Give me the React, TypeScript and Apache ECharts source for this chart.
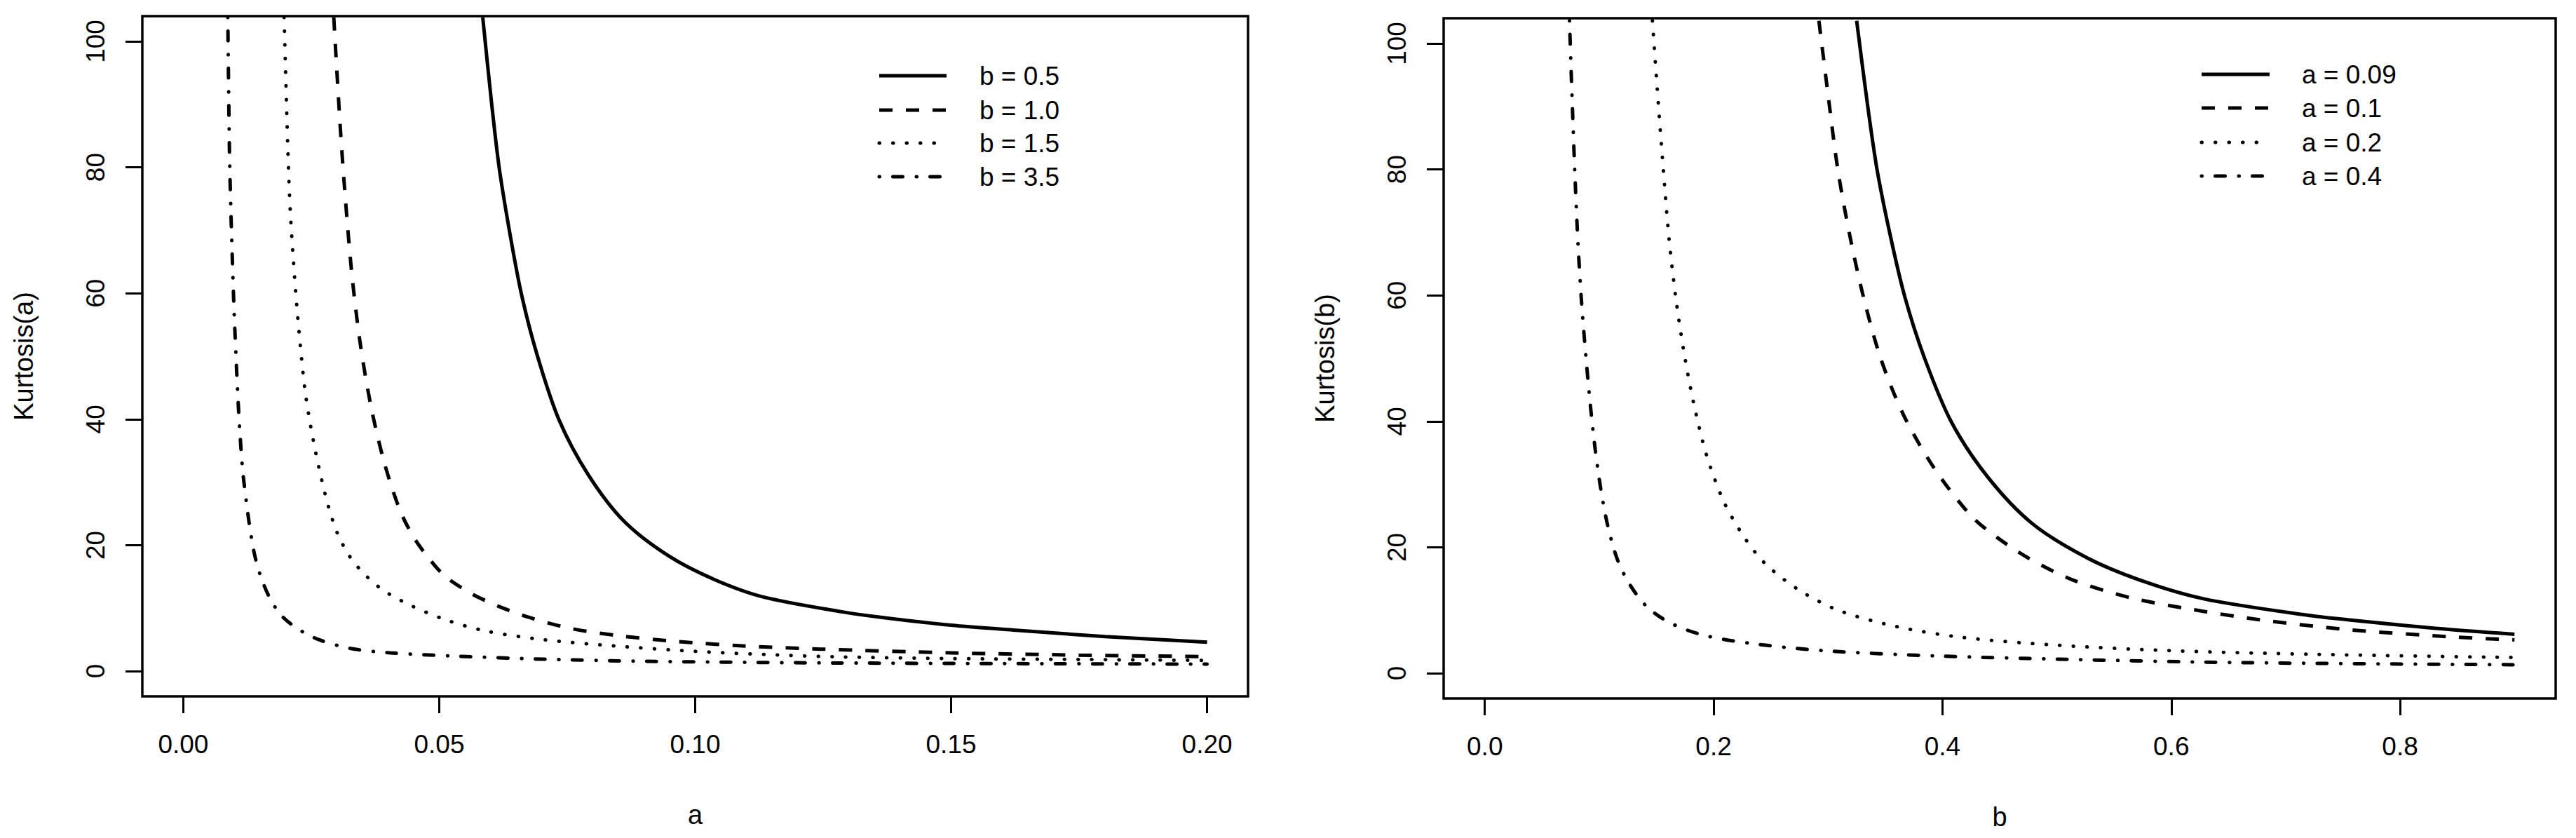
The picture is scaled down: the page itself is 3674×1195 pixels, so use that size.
import React, { useEffect, useRef } from "react";
import * as echarts from "echarts";

// Kurtosis against a, for four values of b
const leftNames = ["b = 0.5", "b = 1.0", "b = 1.5", "b = 3.5"];
const leftB05 = [
  [0.0585, 103.8], [0.0602, 90.4], [0.0617, 80], [0.0638, 69.5], [0.0661, 59.7], [0.0692, 50],
  [0.0734, 39.9], [0.0791, 31.2], [0.0861, 23.8], [0.0948, 18.3], [0.1036, 14.6], [0.1132, 11.8],
  [0.1288, 9.4], [0.1357, 8.6], [0.15, 7.3], [0.1627, 6.5], [0.18, 5.5], [0.2, 4.6],
];
const leftB10 = [
  [0.0294, 103.8], [0.0309, 83.5], [0.0327, 65], [0.0344, 53], [0.0366, 42.3], [0.0392, 33.3],
  [0.0423, 25.6], [0.0449, 21.4], [0.0476, 18.3], [0.0511, 15.1], [0.0563, 12.3], [0.0616, 10.3],
  [0.0677, 8.5], [0.0756, 6.8], [0.0843, 5.7], [0.0966, 4.7], [0.1097, 4.0], [0.1246, 3.5],
  [0.15, 2.9], [0.175, 2.55], [0.2, 2.3],
];
const leftB15 = [
  [0.0197, 103.8], [0.0204, 83.5], [0.0209, 73], [0.0215, 65.3], [0.0222, 57.7], [0.0229, 51.4],
  [0.0237, 45.1], [0.0246, 40.2], [0.0257, 35.4], [0.027, 30.5], [0.0283, 26.3], [0.03, 22.1],
  [0.0322, 18.6], [0.0349, 15.8], [0.0388, 13.0], [0.044, 10.6], [0.0511, 8.2], [0.0589, 6.4],
  [0.0703, 5.0], [0.0843, 4.0], [0.101, 3.1], [0.1185, 2.5], [0.1288, 2.25], [0.15, 2.0],
  [0.175, 1.85], [0.2, 1.7],
];
const leftB35 = [
  [0.0087, 103.8], [0.009, 83.5], [0.0093, 73], [0.0099, 57.7], [0.0103, 50], [0.0107, 43],
  [0.0111, 37.4], [0.0116, 31.9], [0.0123, 27], [0.013, 22.8], [0.0139, 18.6], [0.0151, 15.1],
  [0.0169, 11.6], [0.0191, 8.9], [0.0222, 6.8], [0.0265, 5.0], [0.0327, 3.6], [0.0405, 2.9],
  [0.0528, 2.4], [0.0703, 1.9], [0.0878, 1.6], [0.1097, 1.4], [0.1272, 1.3], [0.16, 1.2], [0.2, 1.12],
];

// Kurtosis against b, for four values of a
const rightNames = ["a = 0.09", "a = 0.1", "a = 0.2", "a = 0.4"];
const rightA009 = [
  [0.325, 103.6], [0.3344, 90.4], [0.3428, 80], [0.3544, 69.5], [0.3672, 59.7], [0.3844, 50],
  [0.4078, 39.9], [0.4394, 31.2], [0.4783, 23.8], [0.5267, 18.3], [0.5756, 14.6], [0.6289, 11.8],
  [0.7156, 9.3], [0.754, 8.5], [0.833, 7.1], [0.9, 6.2],
];
const rightA01 = [
  [0.292, 103.6], [0.301, 90.4], [0.3085, 80], [0.319, 69.5], [0.331, 59.7], [0.346, 50],
  [0.366, 41], [0.393, 32.5], [0.425, 25], [0.449, 21.4], [0.475, 18.3], [0.514, 14.8],
  [0.564, 12], [0.616, 10.2], [0.677, 8.5], [0.756, 6.9], [0.843, 5.8], [0.9, 5.3],
];
const rightA02 = [
  [0.1465, 103.6], [0.151, 92], [0.156, 80], [0.161, 69], [0.167, 59.5], [0.174, 51],
  [0.183, 42.5], [0.194, 34.5], [0.209, 27.2], [0.226, 21.8], [0.244, 17.6], [0.273, 13.4],
  [0.309, 10], [0.36, 7.4], [0.417, 5.7], [0.496, 4.5], [0.597, 3.6], [0.726, 3.0], [0.9, 2.5],
];
const rightA04 = [
  [0.074, 103.6], [0.0765, 90], [0.079, 78], [0.0815, 68], [0.0845, 59], [0.088, 51],
  [0.092, 43], [0.0965, 35.5], [0.102, 28.5], [0.108, 23], [0.116, 18], [0.127, 14],
  [0.142, 10.5], [0.162, 8.0], [0.19, 6.1], [0.23, 4.8], [0.295, 3.6], [0.395, 2.75],
  [0.51, 2.2], [0.654, 1.7], [0.9, 1.35],
];

const yTicks = [0, 20, 40, 60, 80, 100];
const leftXTicks = [0, 0.05, 0.1, 0.15, 0.2];
const rightXTicks = [0, 0.2, 0.4, 0.6, 0.8];

const FONT = "'Liberation Sans', Arial, Helvetica, sans-serif";
const LW = 5;

// R style line types: solid, dashed, dotted, dot-dash
const lineTypes: any[] = [
  { dash: null, cap: "butt" },
  { dash: [19, 19], cap: "butt" },
  { dash: [0.5, 19], cap: "round" },
  { dash: [0.5, 19, 14, 19.5], cap: "round" },
];

const xAxisBase = (grid: number, min: number, max: number, ticks: number[], digits: number, name: string) => ({
  type: "value",
  gridIndex: grid,
  min,
  max,
  name,
  nameLocation: "middle",
  nameGap: 150,
  nameTextStyle: { fontSize: 38, color: "#000", fontFamily: FONT },
  axisLine: { show: false, onZero: false },
  splitLine: { show: false },
  axisTick: { show: true, customValues: ticks, length: 24, lineStyle: { color: "#000", width: 3 } },
  axisLabel: {
    customValues: ticks,
    formatter: (v: number) => v.toFixed(digits),
    fontSize: 37,
    color: "#000",
    fontFamily: FONT,
    margin: 50,
  },
});

const yAxisBase = (grid: number, name: string) => ({
  type: "value",
  gridIndex: grid,
  min: -4,
  max: 104,
  name,
  nameLocation: "middle",
  nameGap: 150,
  nameTextStyle: { fontSize: 38, color: "#000", fontFamily: FONT },
  axisLine: { show: false, onZero: false },
  splitLine: { show: false },
  axisTick: { show: true, customValues: yTicks, length: 24, lineStyle: { color: "#000", width: 3 } },
  axisLabel: {
    customValues: yTicks,
    rotate: 90,
    fontSize: 37,
    color: "#000",
    fontFamily: FONT,
    margin: 48,
  },
});

const makeSeries = (names: string[], data: number[][][], axis: number) =>
  names.map((name, i) => ({
    name,
    type: "line",
    xAxisIndex: axis,
    yAxisIndex: axis,
    data: data[i],
    symbol: "none",
    smooth: 0.3,
    clip: true,
    lineStyle: {
      color: "#000",
      width: LW,
      type: lineTypes[i].dash ?? "solid",
      cap: lineTypes[i].cap,
    },
  }));

// legend drawn as graphic: line sample + label per row
const makeLegend = (names: string[], x1: number, x2: number, textX: number, rows: number[]) =>
  names.flatMap((name, i) => [
    {
      type: "line",
      shape: { x1, y1: rows[i], x2, y2: rows[i] },
      style: {
        stroke: "#000",
        lineWidth: LW,
        lineDash: lineTypes[i].dash,
        lineCap: lineTypes[i].cap,
      },
      silent: true,
    },
    {
      type: "text",
      x: textX,
      y: rows[i],
      style: {
        text: name,
        fill: "#000",
        font: `37px ${FONT}`,
        verticalAlign: "middle",
        align: "left",
      },
      silent: true,
    },
  ]);

const App: React.FC = () => {
  const chartRef = useRef<HTMLDivElement>(null);

  useEffect(() => {
    const chart = echarts.init(chartRef.current!, null, { renderer: "svg" });

    const option: any = {
      animation: false,
      backgroundColor: "#fff",
      grid: [
        { left: 203, top: 23, width: 1577, height: 970, show: true, borderColor: "#000", borderWidth: 3.5, containLabel: false },
        { left: 2059, top: 26, width: 1586, height: 970, show: true, borderColor: "#000", borderWidth: 3.5, containLabel: false },
      ],
      xAxis: [
        xAxisBase(0, -0.008, 0.208, leftXTicks, 2, "a"),
        xAxisBase(1, -0.036, 0.936, rightXTicks, 1, "b"),
      ],
      yAxis: [yAxisBase(0, "Kurtosis(a)"), yAxisBase(1, "Kurtosis(b)")],
      graphic: [
        ...makeLegend(leftNames, 1254, 1350, 1397, [108, 157, 204, 252]),
        ...makeLegend(rightNames, 3140, 3237, 3283, [106, 154, 203, 251]),
      ],
      series: [
        ...makeSeries(leftNames, [leftB05, leftB10, leftB15, leftB35], 0),
        ...makeSeries(rightNames, [rightA009, rightA01, rightA02, rightA04], 1),
      ],
    };

    chart.setOption(option);

    return () => {
      chart.dispose();
    };
  }, []);

  return (
    <div
      ref={chartRef}
      style={{ position: "fixed", left: 0, top: 0, width: "3674px", height: "1195px", background: "#fff" }}
    />
  );
};

export default App;
